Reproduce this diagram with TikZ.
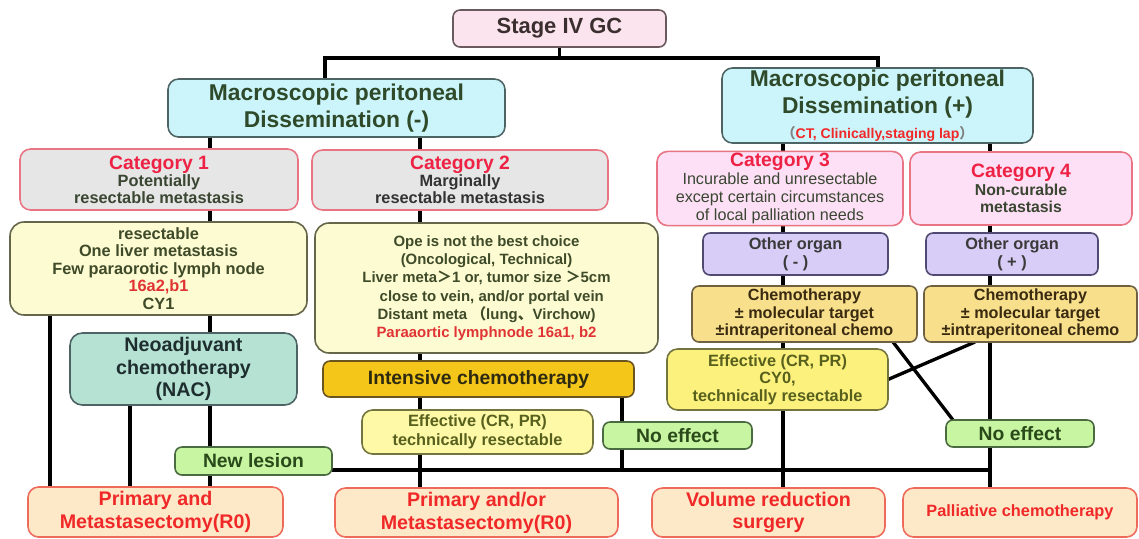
\documentclass[tikz,border=0pt]{standalone}
\usepackage{fontspec}
\setmainfont{Liberation Sans}
\newfontfamily\cjk{Noto Sans CJK SC}
\usetikzlibrary{backgrounds}
\definecolor{stagefill}{HTML}{FCE4EE}\definecolor{stagedraw}{HTML}{6A5A5E}\definecolor{stagetext}{HTML}{3A2E2E}
\definecolor{macfill}{HTML}{CCF5FB}\definecolor{macdraw}{HTML}{4E6464}\definecolor{mactext}{HTML}{2F4A2A}
\definecolor{catgray}{HTML}{E6E6E6}\definecolor{catborder}{HTML}{E87484}\definecolor{catred}{HTML}{EE2244}\definecolor{cattext}{HTML}{3A4632}
\definecolor{catpink}{HTML}{FDE0F6}
\definecolor{creamfill}{HTML}{FDFBD2}\definecolor{creamdraw}{HTML}{66664A}\definecolor{creamtext}{HTML}{3E4A28}\definecolor{redtext}{HTML}{E03434}
\definecolor{nacfill}{HTML}{B6E2D4}\definecolor{nacdraw}{HTML}{4E6464}\definecolor{nactext}{HTML}{1E2E2E}
\definecolor{greenfill}{HTML}{C8F5A2}\definecolor{greendraw}{HTML}{4A6A40}\definecolor{greentext}{HTML}{2A4A1A}
\definecolor{peach}{HTML}{FDE8C8}\definecolor{peachdraw}{HTML}{EE6A5A}\definecolor{peachtext}{HTML}{F02828}
\definecolor{gold}{HTML}{F5C61A}\definecolor{golddraw}{HTML}{6A5420}\definecolor{goldtext}{HTML}{2E2A10}
\definecolor{yel}{HTML}{FDF9A6}\definecolor{yeldraw}{HTML}{74743E}\definecolor{yeltext}{HTML}{58601E}
\definecolor{yelthree}{HTML}{FCF17C}
\definecolor{lav}{HTML}{D8CDF6}\definecolor{lavdraw}{HTML}{504A72}\definecolor{lavtext}{HTML}{3A3A3A}
\definecolor{chemfill}{HTML}{F7DF8C}\definecolor{chemdraw}{HTML}{6E6040}\definecolor{chemtext}{HTML}{3A2A10}
\newcommand\fsz[2]{\fontsize{#1}{#2}\selectfont}
\begin{document}
\begin{tikzpicture}[x=0.02cm,y=-0.02cm,
  base/.style={draw, rounded corners=4pt, line width=0.9pt, align=center, inner sep=1pt, outer sep=0pt},
  sz/.style 2 args={minimum width=#1*0.02cm, minimum height=#2*0.02cm},
  ln/.style={line width=1.9pt, black},
  stagebox/.style={base, fill=stagefill, draw=stagedraw, text=stagetext, font=\bfseries\fsz{12.5}{15}},
  macbox/.style={base, rounded corners=6pt, fill=macfill, draw=macdraw, text=mactext, font=\bfseries\fsz{13}{15.3}},
  catbox/.style={base, rounded corners=6pt, fill=catgray, draw=catborder, text=cattext, font=\bfseries\fsz{9.3}{9.6}},
  catpbox/.style={base, rounded corners=6pt, fill=catpink, draw=catborder, text=cattext, font=\fsz{9.2}{10.2}},
  creambox/.style={base, rounded corners=8pt, fill=creamfill, draw=creamdraw, text=creamtext, font=\bfseries\fsz{9.3}{9.9}},
  nacbox/.style={base, rounded corners=7pt, fill=nacfill, draw=nacdraw, text=nactext, font=\bfseries\fsz{11.2}{13}},
  greenbox/.style={base, fill=greenfill, draw=greendraw, text=greentext, font=\bfseries\fsz{11}{13}},
  peachbox/.style={base, rounded corners=6pt, fill=peach, draw=peachdraw, text=peachtext, font=\bfseries\fsz{11.2}{13}},
  goldbox/.style={base, fill=gold, draw=golddraw, text=goldtext, font=\bfseries\fsz{11}{13}},
  yelbox/.style={base, rounded corners=6pt, fill=yel, draw=yeldraw, text=yeltext, font=\bfseries\fsz{9.3}{10.8}},
  lavbox/.style={base, fill=lav, draw=lavdraw, text=lavtext, font=\bfseries\fsz{9.3}{10.5}},
  chembox/.style={base, fill=chemfill, draw=chemdraw, text=chemtext, font=\bfseries\fsz{9.2}{9.8}}
]
\useasboundingbox (0,0) rectangle (1139,538);

% nodes
\node[stagebox, sz={213}{37}] (stage) at (559.5,28.5) {Stage IV GC};
\node[macbox, sz={337}{58}] (mneg) at (336.5,108) {Macroscopic peritoneal\\Dissemination (-)};
\node[macbox, sz={311}{73}] (mpos) at (877.5,105.5) {Macroscopic peritoneal\\Dissemination (+)\\[-1pt]{\fsz{8}{9}\textcolor{gray}{\cjk （}\textcolor{peachtext}{CT, Clinically,staging lap}\textcolor{gray}{\cjk ）}}};

\node[catbox, sz={278}{61}] (cat1) at (159,179.5) {{\fsz{11}{13}\textcolor{catred}{Category 1}}\\Potentially\\resectable metastasis};
\node[catbox, sz={296}{60}, text=black!80] (cat2) at (460,180) {{\fsz{11}{13}\textcolor{catred}{Category 2}}\\Marginally\\resectable metastasis};
\node[catpbox, sz={246}{73}] (cat3) at (780,188.5) {{\bfseries\fsz{11}{13}\textcolor{catred}{Category 3}}\\Incurable and unresectable\\except certain circumstances\\of local palliation needs};
\node[catpbox, sz={222}{73}, font=\bfseries\fsz{9}{10}] (cat4) at (1021,188.5) {{\fsz{11}{14}\textcolor{catred}{Category 4}}\\Non-curable\\metastasis};

\node[creambox, sz={297}{93}] (res) at (158.5,268.5) {resectable\\One liver metastasis\\Few paraorotic lymph node\\\textcolor{redtext}{16a2,b1}\\CY1};
\node[creambox, sz={343}{130}, font=\bfseries\fsz{8.5}{10.4}] (ope) at (486.5,288) {Ope is not the best choice\\(Oncological, Technical)\\Liver meta{\cjk ＞}1 or, tumor size {\cjk ＞}5cm\\\hspace*{6pt}close to vein, and/or portal vein\\Distant meta {\cjk （}lung{\cjk 、}Virchow)\\\textcolor{redtext}{Paraaortic lymphnode 16a1, b2}};

\node[nacbox, sz={227}{72}] (nac) at (183.5,369) {Neoadjuvant\\chemotherapy\\(NAC)};
\node[greenbox, sz={157}{28}] (newl) at (253.5,461) {New lesion};
\node[peachbox, sz={255}{50}] (prim1) at (155.5,512) {Primary and\\Metastasectomy(R0)};

\node[goldbox, sz={311}{36}] (inten) at (478.5,379) {Intensive chemotherapy};
\node[yelbox, sz={231}{44}] (eff2) at (477.5,432) {Effective (CR, PR)\\technically resectable};
\node[greenbox, sz={149}{27}] (noeff1) at (677.5,435.5) {No effect};
\node[peachbox, sz={283}{49}] (prim2) at (476.5,512.5) {Primary and/or\\Metastasectomy(R0)};

\node[lavbox, sz={185}{42}] (oth1) at (795.5,254) {Other organ\\( - )};
\node[lavbox, sz={172}{42}] (oth2) at (1012,254) {Other organ\\( + )};
\node[chembox, sz={225}{56}] (chem1) at (804.5,314) {Chemotherapy\\± molecular target\\±intraperitoneal chemo};
\node[chembox, sz={213}{56}] (chem2) at (1030.5,314) {Chemotherapy\\± molecular target\\±intraperitoneal chemo};
\node[yelbox, fill=yelthree, sz={221}{61}, font=\bfseries\fsz{9.3}{9.9}] (eff3) at (777.5,379.5) {Effective (CR, PR)\\CY0,\\technically resectable};
\node[greenbox, sz={148}{27}] (noeff2) at (1020,433.5) {No effect};
\node[peachbox, sz={233}{49}] (vol) at (768.5,512.5) {Volume reduction\\surgery};
\node[peachbox, sz={234}{49}, font=\bfseries\fsz{9.3}{11}] (pall) at (1020,512.5) {Palliative chemotherapy};

% helper coordinates
\coordinate (yTop) at (0,58);
\coordinate (yH) at (0,470);
\coordinate (xL) at (325,0);
\coordinate (xR) at (878,0);
\coordinate (xA) at (210,0);
\coordinate (xB) at (420,0);
\coordinate (xC) at (50,0);
\coordinate (xD) at (130,0);
\coordinate (xE) at (622,0);
\coordinate (xF) at (783,0);
\coordinate (xG) at (990,0);
\coordinate (xH) at (975,0);
\coordinate (xI) at (893,0);
\coordinate (xJ) at (953,0);

\begin{pgfonlayer}{background}
\fill[white] (0,0) rectangle (1139,538);
\draw[ln] (stage.south) -- (stage.south |- yTop);
\draw[ln] (xL |- mneg.north) -- (xL |- yTop) -- (xR |- yTop) -- (xR |- mpos.north);
\draw[ln] (xA |- mneg.south) -- (xA |- cat1.north);
\draw[ln] (xA |- cat1.south) -- (xA |- res.north);
\draw[ln] (xA |- res.south) -- (xA |- nac.north);
\draw[ln] (xA |- nac.south) -- (xA |- prim1.north);
\draw[ln] (xC |- res.south) -- (xC |- prim1.north);
\draw[ln] (xD |- nac.south) -- (xD |- prim1.north);
\draw[ln] (xB |- mneg.south) -- (xB |- cat2.north);
\draw[ln] (xB |- cat2.south) -- (xB |- ope.north);
\draw[ln] (xB |- ope.south) -- (xB |- inten.north);
\draw[ln] (xB |- inten.south) -- (xB |- eff2.north);
\draw[ln] (xB |- eff2.south) -- (xB |- prim2.north);
\draw[ln] (xE |- inten.south) -- (xE |- yH);
\draw[ln] (newl.east |- yH) -- (xG |- yH);
\draw[ln] (xF |- mpos.south) -- (xF |- cat3.north);
\draw[ln] (xF |- cat3.south) -- (xF |- oth1.north);
\draw[ln] (xF |- oth1.south) -- (xF |- chem1.north);
\draw[ln] (xF |- chem1.south) -- (xF |- eff3.north);
\draw[ln] (xF |- eff3.south) -- (xF |- vol.north);
\draw[ln] (xG |- mpos.south) -- (xG |- cat4.north);
\draw[ln] (xG |- cat4.south) -- (xG |- oth2.north);
\draw[ln] (xG |- oth2.south) -- (xG |- chem2.north);
\draw[ln] (xG |- chem2.south) -- (xG |- noeff2.north);
\draw[ln] (xG |- noeff2.south) -- (xG |- pall.north);
\draw[ln] (xH |- chem2.south) -- (eff3.east);
\draw[ln] (xI |- chem1.south) -- (xJ |- noeff2.north);
\end{pgfonlayer}
\end{tikzpicture}
\end{document}
